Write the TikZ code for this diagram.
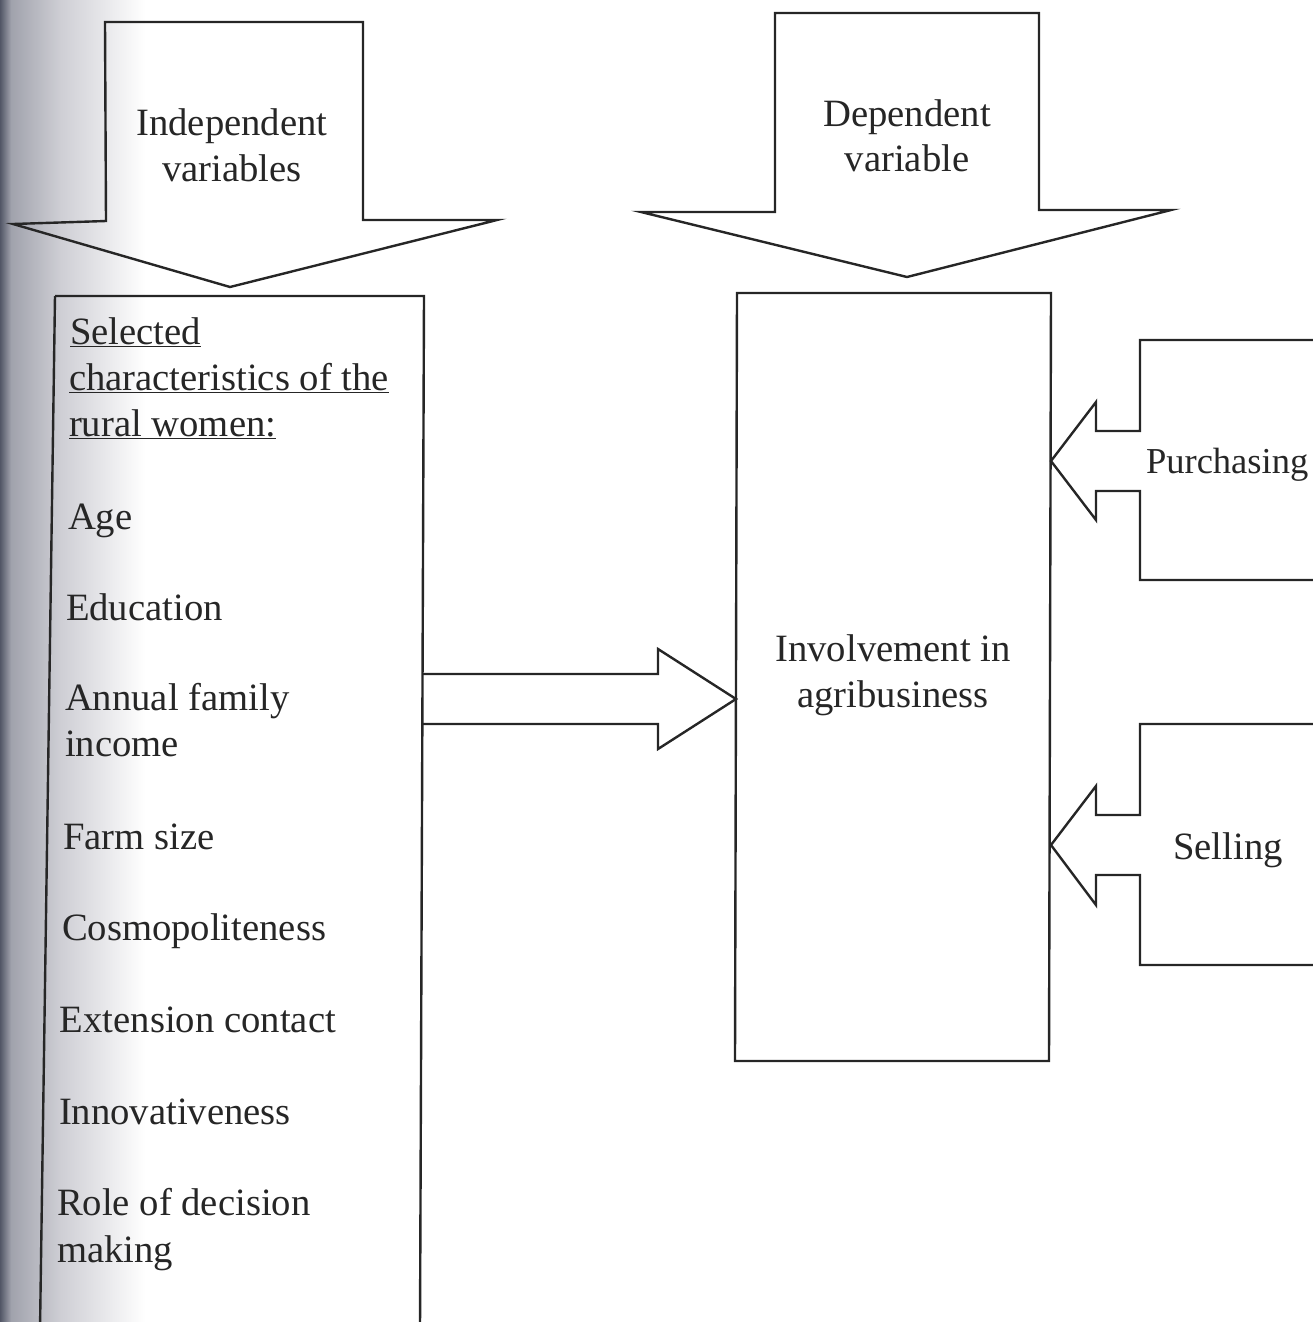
\documentclass[tikz,border=0pt]{standalone}
\usepackage{fontspec}
\setmainfont{Liberation Serif}
\definecolor{scandark}{RGB}{82,86,102}
\definecolor{scanmid}{RGB}{160,162,172}
\definecolor{scanlight}{RGB}{206,206,212}
\definecolor{inkc}{RGB}{38,38,38}
\begin{document}
\begin{tikzpicture}[x=0.75pt,y=-0.75pt,
  outline/.style={draw=inkc,line width=1.8pt,line join=miter},
  lbl/.style={inner sep=0pt,outer sep=0pt,text=inkc,font=\fontsize{29}{34.5}\selectfont},
  lblw/.style={lbl,anchor=base west},
  lblc/.style={lbl,anchor=base}]
\useasboundingbox (0,0) rectangle (1313,1322);
% scan shading at left edge
\shade[left color=scandark,right color=scanmid] (0,0) rectangle (11,1322);
\shade[left color=scanmid,right color=scanlight] (11,0) rectangle (60,1322);
\shade[left color=scanlight,right color=white] (60,0) rectangle (145,1322);

% coordinates
\coordinate (iA) at (105,22);  \coordinate (iB) at (363,22);
\coordinate (iC) at (363,220); \coordinate (iD) at (497,220);
\coordinate (iT) at (230,287); \coordinate (iE) at (13,224);
\coordinate (iF) at (106,221);
\coordinate (dA) at (775,13);  \coordinate (dB) at (1039,13);
\coordinate (dC) at (1039,210); \coordinate (dD) at (1171,210);
\coordinate (dT) at (907,277); \coordinate (dE) at (641,212);
\coordinate (dF) at (775,212);
\coordinate (bTL) at (55,296); \coordinate (bTR) at (424,296);
\coordinate (bBR) at (420,1330); \coordinate (bBL) at (40,1330);
\coordinate (cTL) at (737,293); \coordinate (cTR) at (1051,293);
\coordinate (cBR) at (1049,1061); \coordinate (cBL) at (735,1061);

% independent variables arrow
\draw[outline] (iA) -- (iB) -- (iC) -- (iD) -- (iT) -- (iE) -- (iF) -- cycle;
\node[lblc] (indep1) at (232,135) {Independent};
\node[lblc] (indep2) at (232,181) {variables};

% dependent variable arrow
\draw[outline] (dA) -- (dB) -- (dC) -- (dD) -- (dT) -- (dE) -- (dF) -- cycle;
\node[lblc] (dep1) at (907,126) {Dependent};
\node[lblc] (dep2) at (907,171) {variable};

% left box
\draw[outline] (bTL) -- (bTR) -- (bBR) (bBL) -- (bTL);
\node[lblw] (sel1) at (70,344) {\underline{Selected}};
\node[lblw] (sel2) at (69,390) {\underline{characteristics of the}};
\node[lblw] (sel3) at (69,436) {\underline{rural women:}};
\node[lblw] (age) at (68,529) {Age};
\node[lblw] (edu) at (66,620) {Education};
\node[lblw] (inc1) at (65,710) {Annual family};
\node[lblw] (inc2) at (65,756) {income};
\node[lblw] (farm) at (63,849) {Farm size};
\node[lblw] (cosmo) at (62,940) {Cosmopoliteness};
\node[lblw] (ext) at (60,1032) {Extension contact};
\node[lblw] (inno) at (59,1124) {Innovativeness};
\node[lblw] (role1) at (57,1215) {Role of decision};
\node[lblw] (role2) at (57,1262) {making};

% central box
\draw[outline] (cTL) -- (cTR) -- (cBR) -- (cBL) -- cycle;
\node[lblc] (inv1) at (893,661) {Involvement in};
\node[lblc] (inv2) at (893,707) {agribusiness};

% block arrow from left box to central box
\coordinate (hA) at (423,674); \coordinate (hB) at (658,674);
\coordinate (hC) at (658,649); \coordinate (hT) at (736,699);
\coordinate (hD) at (658,749); \coordinate (hE) at (658,724);
\coordinate (hF) at (422,724);
\draw[outline] (hA) -- (hB) -- (hC) -- (hT) -- (hD) -- (hE) -- (hF);

% purchasing callout
\coordinate (pA) at (1325,340); \coordinate (pB) at (1140,340);
\coordinate (pC) at (1140,431); \coordinate (pD) at (1096,431);
\coordinate (pE) at (1096,402); \coordinate (pT) at (1051,461);
\coordinate (pF) at (1096,520); \coordinate (pG) at (1096,491);
\coordinate (pH) at (1140,491); \coordinate (pI) at (1140,580);
\coordinate (pJ) at (1325,580);
\draw[outline] (pA) -- (pB) -- (pC) -- (pD) -- (pE) -- (pT) -- (pF) -- (pG) -- (pH) -- (pI) -- (pJ);
\node[lblw,font=\fontsize{27.4}{32}\selectfont] (purch) at (1146,473) {Purchasing};

% selling callout
\coordinate (sA) at (1325,724); \coordinate (sB) at (1140,724);
\coordinate (sC) at (1140,815); \coordinate (sD) at (1096,815);
\coordinate (sE) at (1096,786); \coordinate (sT) at (1051,845);
\coordinate (sF) at (1096,905); \coordinate (sG) at (1096,875);
\coordinate (sH) at (1140,875); \coordinate (sI) at (1140,965);
\coordinate (sJ) at (1325,965);
\draw[outline] (sA) -- (sB) -- (sC) -- (sD) -- (sE) -- (sT) -- (sF) -- (sG) -- (sH) -- (sI) -- (sJ);
\node[lblc] (sell) at (1228,859) {Selling};
\end{tikzpicture}
\end{document}
